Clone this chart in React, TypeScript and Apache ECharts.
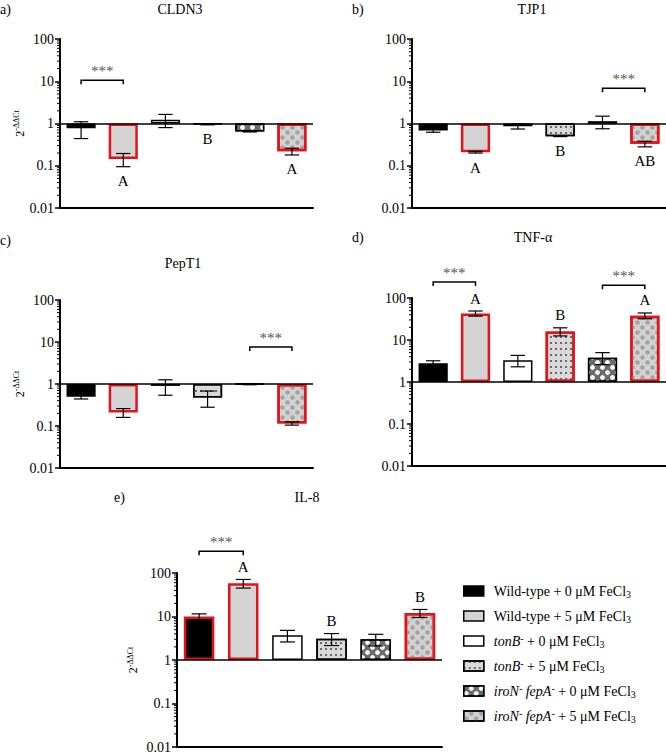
import React, { useEffect, useRef } from "react";
import * as echarts from "echarts";

// ---------- data ----------
const groupNames = [
  "Wild-type + 0 μM FeCl3",
  "Wild-type + 5 μM FeCl3",
  "tonB- + 0 μM FeCl3",
  "tonB- + 5 μM FeCl3",
  "iroN- fepA- + 0 μM FeCl3",
  "iroN- fepA- + 5 μM FeCl3",
];
const legendRich = [
  "{t|Wild-type + 0 μM FeCl}{sub|3}",
  "{t|Wild-type + 5 μM FeCl}{sub|3}",
  "{i|tonB}{sup|-}{t| + 0 μM FeCl}{sub|3}",
  "{i|tonB}{sup|-}{t| + 5 μM FeCl}{sub|3}",
  "{i|iroN}{sup|-}{i| fepA}{sup|-}{t| + 0 μM FeCl}{sub|3}",
  "{i|iroN}{sup|-}{i| fepA}{sup|-}{t| + 5 μM FeCl}{sub|3}",
];
const categories = ["1", "2", "3", "4", "5", "6"];
const yTicks = [0.01, 0.1, 1, 10, 100];
const minorSteps = [2, 3, 4, 5, 6, 7, 8, 9];

const panelTitles = ["CLDN3", "TJP1", "PepT1", "TNF-α", "IL-8"];
const panelTags = ["a)", "b)", "c)", "d)", "e)"];

const cldn3Mean = [0.77, 0.145, 1.22, 0.96, 0.65, 0.22];
const cldn3Sem = [0.33, 0.05, 0.42, 0.03, 0.02, 0.04];
const cldn3Letters = ["", "A", "", "B", "", "A"];
const cldn3Red = [1, 5];
const cldn3Sig = [[0, 1, 10.5]];

const tjp1Mean = [0.68, 0.21, 0.86, 0.5, 1.12, 0.33];
const tjp1Sem = [0.06, 0.01, 0.12, 0.01, 0.37, 0.05];
const tjp1Letters = ["", "A", "", "B", "", "AB"];
const tjp1Red = [1, 5];
const tjp1Sig = [[4, 5, 6.8]];

const pept1Mean = [0.5, 0.21, 0.9, 0.48, 0.99, 0.115];
const pept1Sem = [0.06, 0.05, 0.36, 0.2, 0.03, 0.01];
const pept1Letters = ["", "", "", "", "", ""];
const pept1Red = [1, 5];
const pept1Sig = [[4, 5, 7.6]];

const tnfMean = [2.8, 43, 3.3, 16, 3.8, 38];
const tnfSem = [0.4, 6, 1, 3.5, 1.2, 6];
const tnfLetters = ["", "A", "", "B", "", "A"];
const tnfRed = [1, 3, 5];
const tnfSig = [[0, 1, 240], [4, 5, 200]];

const il8Mean = [10, 58, 3.7, 3.1, 3.0, 12];
const il8Sem = [1.5, 13, 1.1, 0.95, 0.9, 2.5];
const il8Letters = ["", "A", "", "B", "", "B"];
const il8Red = [0, 1, 5];
const il8Sig = [[0, 1, 316]];

const panelMeans = [cldn3Mean, tjp1Mean, pept1Mean, tnfMean, il8Mean];
const panelSems = [cldn3Sem, tjp1Sem, pept1Sem, tnfSem, il8Sem];
const panelLetters = [cldn3Letters, tjp1Letters, pept1Letters, tnfLetters, il8Letters];
const panelReds = [cldn3Red, tjp1Red, pept1Red, tnfRed, il8Red];
const panelSigs = [cldn3Sig, tjp1Sig, pept1Sig, tnfSig, il8Sig];

// ---------- layout / style ----------
const FONT = "'Liberation Serif', 'Times New Roman', serif";
const grids = [
  { left: 60, top: 39, width: 253, height: 169 },
  { left: 412, top: 39, width: 254, height: 169 },
  { left: 60, top: 300, width: 253, height: 168 },
  { left: 412, top: 298, width: 254, height: 168 },
  { left: 177, top: 573, width: 265, height: 175 },
];
const yNameGap = [31, 0, 31, 0, 37];
const titlePos = [
  { tag: [0, 9], title: [180, 9] },
  { tag: [352, 9], title: [532, 9] },
  { tag: [0, 240], title: [183, 263] },
  { tag: [352, 237], title: [533, 237] },
  { tag: [114, 497], title: [307, 497] },
];

const RED = "#e3121b";
const groupStyles: any[] = [
  { color: "#000000" },
  { color: "#d4d4d4" },
  { color: "#ffffff" },
  {
    color: "#d9d9d9",
    decal: {
      symbol: "rect",
      symbolSize: 1,
      color: "#6a6a6a",
      dashArrayX: [1.3, 2.7],
      dashArrayY: [1.3, 3.7],
      rotation: 0,
    },
  },
  {
    color: "#6b6b6b",
    decal: {
      symbol: "circle",
      symbolSize: 0.95,
      color: "#ffffff",
      dashArrayX: [[5, 5], [0, 5, 5, 0]],
      dashArrayY: [5, 0],
      rotation: 0,
    },
  },
  {
    color: "#d2d2d2",
    decal: {
      symbol: "circle",
      symbolSize: 0.9,
      color: "#a3a3a3",
      dashArrayX: [[5, 5], [0, 5, 5, 0]],
      dashArrayY: [5, 0],
      rotation: 0,
    },
  },
];

function buildOption() {
  const xAxis: any[] = [];
  const yAxis: any[] = [];
  const series: any[] = [];
  const graphic: any[] = [];

  // minor tick values (2..9 within each decade of the axis)
  const minorVals: number[] = [];
  yTicks.slice(0, -1).forEach((d) => minorSteps.forEach((k) => minorVals.push(d * k)));

  grids.forEach((g, p) => {
    xAxis.push({
      type: "category",
      gridIndex: p,
      data: categories,
      axisLine: { show: true, onZero: false, lineStyle: { color: "#000", width: 2 } },
      axisTick: { show: false },
      axisLabel: { show: false },
      splitLine: { show: false },
    });
    yAxis.push({
      type: "log",
      logBase: 10,
      gridIndex: p,
      min: 0.01,
      max: 100,
      name: yNameGap[p] ? "{a|2}{s|-ΔΔCt}" : "",
      nameLocation: "middle",
      nameGap: yNameGap[p],
      nameRotate: 90,
      nameTextStyle: {
        fontFamily: FONT,
        color: "#000",
        rich: {
          a: { fontFamily: FONT, fontSize: 12, color: "#000", lineHeight: 14 },
          s: { fontFamily: FONT, fontSize: 8, color: "#000", verticalAlign: "top", lineHeight: 14 },
        },
      },
      axisLine: { show: true, lineStyle: { color: "#000", width: 2 } },
      axisTick: { show: true, length: 5, lineStyle: { color: "#000", width: 1.5 } },
      minorTick: { show: false },
      axisLabel: {
        fontFamily: FONT,
        fontSize: 14,
        color: "#000",
        margin: 6,
        formatter: (v: number) => {
          const t = yTicks.find((k) => Math.abs(Math.log10(k) - Math.log10(v)) < 1e-6);
          return t === undefined ? "" : String(t);
        },
      },
      splitLine: { show: false },
    });

    const means = panelMeans[p];
    const sems = panelSems[p];
    const reds = panelReds[p];
    const letters = panelLetters[p];

    groupNames.forEach((name, gi) => {
      const st = groupStyles[gi];
      const s: any = {
        type: "bar",
        name,
        xAxisIndex: p,
        yAxisIndex: p,
        barWidth: "69%",
        barGap: "-100%",
        itemStyle: {
          color: st.color,
          borderColor: "#000",
          borderWidth: 1.5,
          decal: st.decal,
        },
        data: means.map((v, i) =>
          i === gi
            ? reds.includes(i)
              ? { value: v, itemStyle: { borderColor: RED, borderWidth: 2.5 } }
              : v
            : "-"
        ),
        z: 2,
      };
      if (gi === 0) {
        s.markLine = {
          silent: true,
          symbol: ["none", "none"],
          label: { show: false },
          lineStyle: { color: "#000", width: 1.5, type: "solid" },
          data: [{ yAxis: 1 }],
          z: 4,
        };
      }
      series.push(s);
    });

    // log-spaced minor ticks on the y axis
    series.push({
      type: "custom",
      xAxisIndex: p,
      yAxisIndex: p,
      z: 6,
      clip: false,
      silent: true,
      encode: { x: 0, y: 1 },
      data: minorVals.map((v) => [0, v]),
      renderItem: (params: any, api: any) => {
        const c = api.coord([0, api.value(1)]);
        const x0 = params.coordSys.x;
        return {
          type: "line",
          shape: { x1: x0 - 3, y1: c[1], x2: x0, y2: c[1] },
          style: { stroke: "#000", lineWidth: 1 },
        };
      },
    });

    // error bars + letters
    series.push({
      type: "custom",
      xAxisIndex: p,
      yAxisIndex: p,
      z: 5,
      encode: { x: 0, y: 1 },
      data: means.map((m, i) => [i, m, sems[i]]),
      renderItem: (params: any, api: any) => {
        const i = api.value(0);
        const m = api.value(1);
        const e = api.value(2);
        const hi = api.coord([i, m + e]);
        const lo = api.coord([i, Math.max(m - e, 1e-4)]);
        const band = api.size([1, 0])[0];
        const h = band * 0.17;
        const style = { stroke: "#000", lineWidth: 1.2 };
        const children: any[] = [
          { type: "line", shape: { x1: hi[0], y1: hi[1], x2: lo[0], y2: lo[1] }, style },
          { type: "line", shape: { x1: hi[0] - h, y1: hi[1], x2: hi[0] + h, y2: hi[1] }, style },
          { type: "line", shape: { x1: lo[0] - h, y1: lo[1], x2: lo[0] + h, y2: lo[1] }, style },
        ];
        const letter = letters[params.dataIndex];
        if (letter) {
          const below = m < 1;
          children.push({
            type: "text",
            x: hi[0],
            y: below ? lo[1] + 7 : hi[1] - 5,
            style: {
              text: letter,
              fontFamily: FONT,
              fontSize: 15,
              fill: "#000",
              align: "center",
              verticalAlign: below ? "top" : "bottom",
            },
          });
        }
        return { type: "group", children };
      },
    });

    // significance brackets
    series.push({
      type: "custom",
      xAxisIndex: p,
      yAxisIndex: p,
      z: 5,
      clip: false,
      encode: { x: 0, y: 2 },
      data: panelSigs[p],
      renderItem: (params: any, api: any) => {
        const a = api.coord([api.value(0), api.value(2)]);
        const b = api.coord([api.value(1), api.value(2)]);
        return {
          type: "group",
          children: [
            {
              type: "polyline",
              shape: { points: [[a[0], a[1] + 4], [a[0], a[1]], [b[0], b[1]], [b[0], b[1] + 4]] },
              style: { stroke: "#000", lineWidth: 1.5, fill: null },
            },
            {
              type: "text",
              x: (a[0] + b[0]) / 2,
              y: a[1] - 2,
              style: {
                text: "***",
                fontFamily: FONT,
                fontSize: 15,
                fill: "#555",
                align: "center",
                verticalAlign: "bottom",
              },
            },
          ],
        };
      },
    });

    const tp = titlePos[p];
    graphic.push({
      type: "text",
      x: tp.tag[0],
      y: tp.tag[1],
      style: { text: panelTags[p], fontFamily: FONT, fontSize: 14, fill: "#000", align: "left", verticalAlign: "middle" },
    });
    graphic.push({
      type: "text",
      x: tp.title[0],
      y: tp.title[1],
      style: { text: panelTitles[p], fontFamily: FONT, fontSize: 14, fill: "#000", align: "center", verticalAlign: "middle" },
    });
  });

  return {
    animation: false,
    backgroundColor: "#ffffff",
    textStyle: { fontFamily: FONT },
    grid: grids.map((g) => ({ ...g, containLabel: false })),
    xAxis,
    yAxis,
    series,
    graphic,
    legend: {
      data: groupNames,
      orient: "vertical",
      left: 458,
      top: 578,
      itemWidth: 20,
      itemHeight: 10,
      itemGap: 9,
      icon: "rect",
      selectedMode: false,
      itemStyle: { borderColor: "#000", borderWidth: 1.5 },
      formatter: (name: string) => legendRich[groupNames.indexOf(name)],
      textStyle: {
        fontFamily: FONT,
        fontSize: 14,
        color: "#000",
        padding: [0, 0, 0, 5],
        lineHeight: 16,
        rich: {
          t: { fontFamily: FONT, fontSize: 14, color: "#000", lineHeight: 16 },
          i: { fontFamily: FONT, fontSize: 14, color: "#000", fontStyle: "italic", lineHeight: 16 },
          sub: { fontFamily: FONT, fontSize: 10, color: "#000", verticalAlign: "bottom", lineHeight: 14 },
          sup: { fontFamily: FONT, fontSize: 10, color: "#000", verticalAlign: "top", lineHeight: 16 },
        },
      },
    },
  };
}

export default function App() {
  const ref = useRef<HTMLDivElement>(null);
  useEffect(() => {
    if (!ref.current) return;
    const chart = echarts.init(ref.current, null, { renderer: "svg" });
    chart.setOption(buildOption() as any);
    return () => chart.dispose();
  }, []);
  return (
    <div
      ref={ref}
      style={{ position: "absolute", left: 0, top: 0, width: 666, height: 754, background: "#fff" }}
    />
  );
}
